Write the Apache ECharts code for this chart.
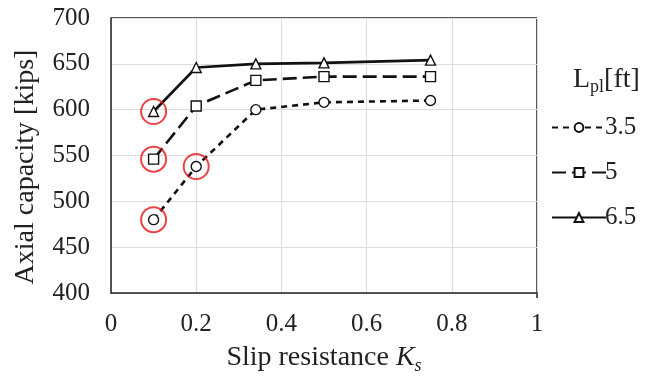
<!DOCTYPE html>
<html><head><meta charset="utf-8">
<script src="https://cdn.jsdelivr.net/npm/echarts@6/dist/echarts.min.js"></script>
<style>html,body{margin:0;padding:0;background:#fff}#c{width:645px;height:380px}</style>
</head><body><div id="c"></div>
<script>
const ks = [0.1, 0.2, 0.34, 0.5, 0.75];
const names = ['3.5', '5', '6.5'];
const cap35 = [480, 538, 600, 608, 610];
const cap5 = [546, 604, 632, 636, 636];
const cap65 = [598, 646, 650, 651, 654];
const highlighted = [[0.1, 598], [0.1, 546], [0.2, 538], [0.1, 480]];
const xTicks = [0, 0.2, 0.4, 0.6, 0.8, 1];
const yTicks = [400, 450, 500, 550, 600, 650, 700];

const F = 'Liberation Serif';
const chart = echarts.init(document.getElementById('c'));
function pts(v){ return ks.map((x,i)=>[x, v[i]]); }
function ser(name, vals, sym, type){
  return {name, type:'line', data:pts(vals), symbol:sym, symbolSize:10,
    itemStyle:{color:'#fff', borderColor:'#111', borderWidth:1.4},
    lineStyle:{color:'#111', width:2.6, type},
    emphasis:{disabled:true}, z:3};
}
chart.setOption({
  animation:false,
  backgroundColor:'#fff',
  grid:{left:111, right:108, top:18, bottom:82},
  xAxis:{type:'value', min:0, max:1, interval:0.2,
    axisLine:{show:true, onZero:false, lineStyle:{color:'#222', width:1.5}},
    axisTick:{show:false},
    splitLine:{show:true, lineStyle:{color:'#ddd', width:1}},
    axisLabel:{fontFamily:F, fontSize:25, color:'#222', margin:19,
      formatter:v=>xTicks.includes(+v.toFixed(1)) ? String(+v.toFixed(1)) : ''},
    name:'{a|Slip resistance }{b|K}{c|s}', nameLocation:'middle', nameGap:48,
    nameTextStyle:{rich:{
      a:{fontFamily:F, fontSize:28, color:'#222'},
      b:{fontFamily:F, fontSize:28, fontStyle:'italic', color:'#222'},
      c:{fontFamily:F, fontSize:18, fontStyle:'italic', color:'#222', padding:[16,0,0,0]}}}
  },
  yAxis:{type:'value', min:400, max:700, interval:50,
    axisLine:{show:true, lineStyle:{color:'#222', width:1.5}},
    axisTick:{show:false},
    splitLine:{show:true, lineStyle:{color:'#ddd', width:1}},
    axisLabel:{fontFamily:F, fontSize:25, color:'#222', margin:21,
      formatter:v=>yTicks.includes(v)?String(v):''}
  },
  graphic:[
    {type:'line', shape:{x1:537,y1:18,x2:537,y2:298}, style:{stroke:'#222', lineWidth:1.5}},
    {type:'line', shape:{x1:111,y1:18,x2:537,y2:18}, style:{stroke:'#222', lineWidth:1.5}},
    {type:'text', x:26, y:167, rotation:Math.PI/2, style:{
      text:'Axial capacity [kips]', fontFamily:F, fontSize:28, fill:'#222',
      align:'center', verticalAlign:'middle'}},
    {type:'text', left:573, top:66, style:{
      text:'{a|L}{b|pl}{a|[ft]}',
      rich:{a:{fontFamily:F, fontSize:28, fill:'#222'},
            b:{fontFamily:F, fontSize:18, fill:'#222', padding:[15,0,0,0]}}}}
  ],
  legend:{orient:'vertical', left:546, top:110, itemGap:20, itemWidth:54, itemHeight:11,
    data:names,
    textStyle:{fontFamily:F, fontSize:25, color:'#222', padding:[0,0,0,-6]}},
  series:[
    ser('3.5', cap35, 'circle', [6,5]),
    ser('5', cap5, 'rect', [14,6]),
    ser('6.5', cap65, 'triangle', 'solid'),
    {type:'scatter', data:highlighted, symbol:'circle', symbolSize:25,
      itemStyle:{color:'rgba(0,0,0,0)', borderColor:'#e8141a', borderWidth:2},
      z:5, silent:true, legendHoverLink:false}
  ]
});
</script></body></html>
